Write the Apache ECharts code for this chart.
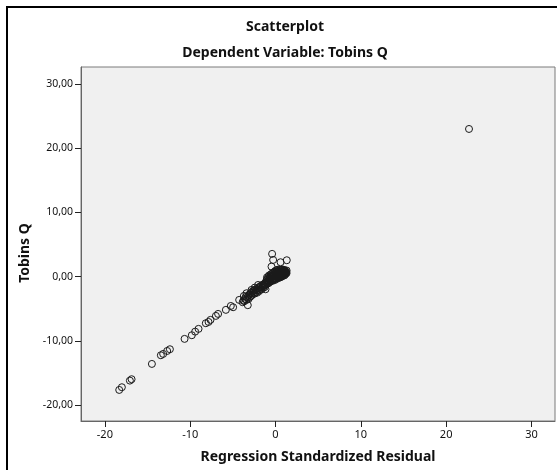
<!DOCTYPE html>
<html>
<head>
<meta charset="utf-8">
<script src="https://cdn.jsdelivr.net/npm/echarts@6/dist/echarts.min.js"></script>
<style>
html,body{margin:0;padding:0;background:#fff;}
#chart{width:557px;height:470px;}
</style>
</head>
<body>
<div id="chart"></div>
<script>
const chartTitle = 'Scatterplot';
const chartSubtitle = 'Dependent Variable: Tobins Q';
const xAxisName = 'Regression Standardized Residual';
const yAxisName = 'Tobins Q';
const xTicks = [-20, -10, 0, 10, 20, 30];
const yTicks = [-20, -10, 0, 10, 20, 30];
const xRange = [-22.8, 32.76];
const yRange = [-22.49, 32.65];

// [standardized residual, Tobins Q]
const sparsePoints = [
  [-18.32,-17.65],[-18.01,-17.23],[-17.07,-16.20],[-16.87,-15.98],[-14.49,-13.60],
  [-13.44,-12.25],[-13.17,-12.04],[-12.70,-11.58],[-12.38,-11.31],[-10.66,-9.70],
  [-9.81,-9.13],[-9.42,-8.57],[-9.02,-8.14],[-8.17,-7.26],[-7.85,-7.06],
  [-7.62,-6.74],[-6.99,-6.12],[-6.73,-5.81],[-5.82,-5.18],[-5.24,-4.57],
  [-4.97,-4.77],[-4.26,-3.63],[-3.71,-3.01],[-3.40,-2.59],[-3.25,-4.45],
  [-2.81,-2.07],[-2.43,-1.71],[-2.04,-1.30],[-1.17,-1.97],[-0.40,3.54],
  [-0.28,2.60],[0.59,2.24],[1.32,2.55],[-0.47,1.56]
];
const tailPoints = [
  [-3.85,-3.99],[-3.75,-3.68],[-3.65,-3.83],[-3.55,-3.47],[-3.5,-3.16],[-3.4,-3.63],[-3.3,-3.27],
  [-3.2,-2.96],[-3.15,-3.47],[-3.05,-2.75],[-3.0,-3.16],[-2.9,-2.55],[-2.85,-3.01],[-2.75,-2.34],
  [-2.7,-2.80],[-2.6,-2.50],[-2.55,-2.19],[-2.45,-2.65],[-2.4,-2.03],[-2.3,-2.39],[-2.2,-1.93],
  [-2.15,-2.50],[-2.05,-2.13],[-2.0,-1.77],[-1.9,-2.24],[-1.85,-1.57],[-1.8,-1.93],[-1.7,-1.41],
  [-1.65,-1.98],[-1.6,-1.67],[-1.5,-1.26],[-1.45,-1.77],[-1.4,-1.46],[-1.3,-1.10],[-1.25,-1.62],
  [-1.2,-1.31],[-1.15,-0.90],[-1.1,-1.21]
];
const clusterPoints = [
  [-1.05,-0.54],[-1.0,-0.12],[-0.95,-1.10],[-0.9,-0.79],[-0.9,-0.33],[-0.85,-0.02],[-0.8,-1.0],
  [-0.8,-0.59],[-0.75,0.19],[-0.7,-0.23],[-0.7,-0.85],[-0.65,-0.48],[-0.6,0.03],[-0.6,-0.74],
  [-0.55,0.34],[-0.55,-0.28],[-0.5,-0.59],[-0.45,0.13],[-0.45,-0.07],[-0.4,-0.69],[-0.4,0.50],
  [-0.35,-0.33],[-0.3,0.24],[-0.3,-0.54],[-0.25,-0.02],[-0.25,0.65],[-0.2,-0.38],[-0.15,0.39],
  [-0.15,-0.18],[-0.1,0.80],[-0.1,-0.54],[-0.05,0.08],[0.0,0.55],[0.0,-0.28],[0.05,0.96],
  [0.05,0.24],[0.1,-0.38],[0.1,0.70],[0.15,-0.02],[0.2,0.44],[0.2,1.06],[0.25,-0.23],[0.25,0.19],
  [0.3,0.86],[0.3,-0.02],[0.35,0.55],[0.4,-0.18],[0.4,0.29],[0.4,1.11],[0.45,0.75],[0.5,0.03],
  [0.5,0.50],[0.55,0.96],[0.55,-0.12],[0.6,0.29],[0.6,0.70],[0.65,1.06],[0.65,0.08],[0.7,0.50],
  [0.7,-0.02],[0.75,0.86],[0.75,0.24],[0.8,0.60],[0.8,1.11],[0.85,0.13],[0.85,0.39],[0.9,0.91],
  [0.9,0.65],[0.95,0.29],[0.95,1.06],[1.0,0.50],[1.0,0.80],[1.05,0.19],[1.05,1.01],[1.1,0.65],
  [1.1,0.39],[1.15,0.86],[1.2,0.60],[1.2,0.44],[1.25,0.75],[1.3,0.55],[1.3,0.95]
];
const outlierPoints = [[22.68,23.0]];

const allPoints = sparsePoints.concat(tailPoints, clusterPoints, outlierPoints);

const FONT = "'Noto Sans', 'DejaVu Sans', sans-serif";
const chart = echarts.init(document.getElementById('chart'), null, {renderer: 'canvas'});
const fmtY = v => v.toFixed(2).replace('.', ',');

chart.setOption({
  backgroundColor: '#ffffff',
  animation: false,
  graphic: [
    {type: 'rect', shape: {x: 7, y: 7, width: 700, height: 700}, style: {fill: 'none', stroke: '#000', lineWidth: 2}, silent: true, z: -1},
    {type: 'text', x: 285, y: 27, style: {text: chartTitle, font: "bold 14px " + FONT, fill: '#111', align: 'center', verticalAlign: 'middle'}},
    {type: 'text', x: 285, y: 53, style: {text: chartSubtitle, font: "bold 14px " + FONT, fill: '#111', align: 'center', verticalAlign: 'middle'}}
  ],
  grid: {
    left: 81, top: 67, right: 2, bottom: 49,
    show: true, backgroundColor: '#f0f0f0', borderColor: '#7a7a7a', borderWidth: 1
  },
  xAxis: {
    type: 'value', min: xRange[0], max: xRange[1],
    name: xAxisName, nameLocation: 'middle', nameGap: 29,
    nameTextStyle: {fontFamily: FONT, fontWeight: 'bold', fontSize: 14, color: '#111'},
    axisLine: {show: true, onZero: false, lineStyle: {color: '#666', width: 1}},
    axisTick: {show: true, length: 6, customValues: xTicks, lineStyle: {color: '#222'}},
    axisLabel: {customValues: xTicks, fontFamily: FONT, fontSize: 11, color: '#111', margin: 8},
    splitLine: {show: false}
  },
  yAxis: {
    type: 'value', min: yRange[0], max: yRange[1],
    name: yAxisName, nameLocation: 'middle', nameGap: 47, nameRotate: 90,
    nameTextStyle: {fontFamily: FONT, fontWeight: 'bold', fontSize: 14, color: '#111', padding: [0, 18, 0, 0]},
    axisLine: {show: true, onZero: false, lineStyle: {color: '#666', width: 1}},
    axisTick: {show: true, length: 6, customValues: yTicks, lineStyle: {color: '#222'}},
    axisLabel: {customValues: yTicks, formatter: fmtY, fontFamily: FONT, fontSize: 10.5, color: '#111', margin: 8},
    splitLine: {show: false}
  },
  series: [{
    type: 'scatter',
    data: allPoints,
    symbol: 'circle',
    symbolSize: 7,
    itemStyle: {color: 'rgba(0,0,0,0)', borderColor: '#1a1a1a', borderWidth: 1, opacity: 1},
    emphasis: {disabled: true}
  }]
});
</script>
</body>
</html>
